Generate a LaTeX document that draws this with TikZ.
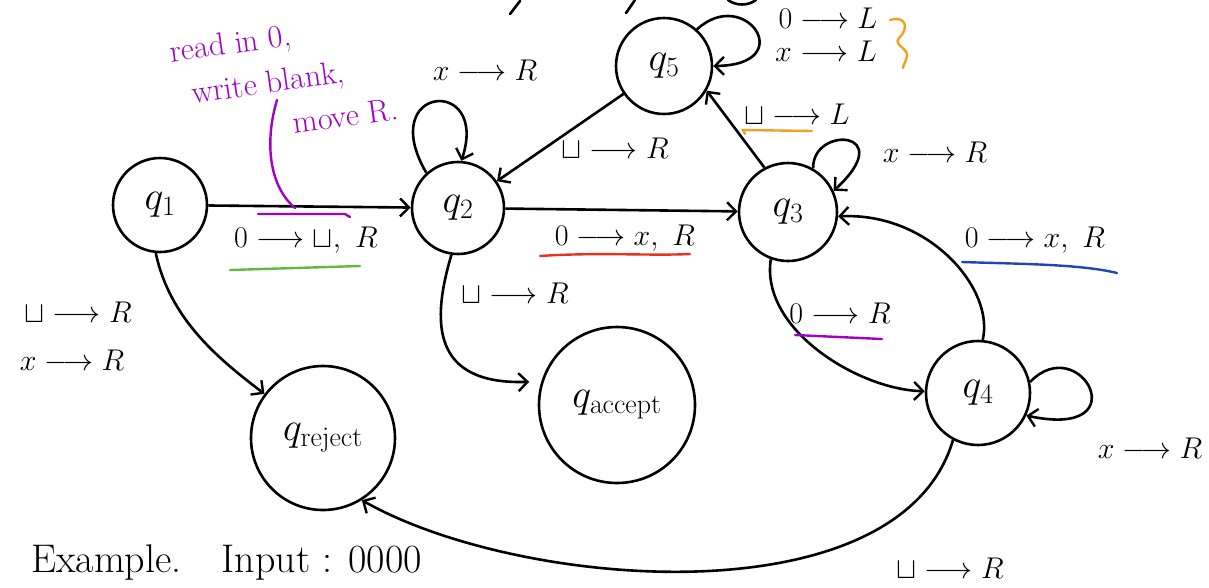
\RequirePackage{fix-cm}
\documentclass[tikz,border=0pt]{standalone}
\usetikzlibrary{arrows.meta}
\definecolor{annpurple}{RGB}{160,0,200}
\definecolor{anngreen}{RGB}{100,185,60}
\definecolor{annred}{RGB}{230,50,35}
\definecolor{annorange}{RGB}{242,160,30}
\definecolor{annblue}{RGB}{30,70,180}
\tikzset{
  state/.style={draw, circle, line width=2.6pt, inner sep=0pt, font=\fontsize{40}{46}\selectfont},
  bigstate/.style={state, font=\fontsize{40}{46}\selectfont},
  edge/.style={line width=2.6pt, -{Straight Barb[length=9pt,width=18pt,line width=2.4pt]}},
  lbl/.style={font=\fontsize{30}{36}\selectfont, inner sep=1pt},
  ann/.style={font=\fontsize{32}{44}\selectfont, text=annpurple, inner sep=0pt},
  uline/.style={line width=2.4pt, line cap=round},
  stroke/.style={line width=2.6pt, line cap=round},
}
\begin{document}
\begin{tikzpicture}[x=1pt,y=-1pt]
\useasboundingbox (0,0) rectangle (1209,587);
% states
\node[state, minimum size=94pt]  (q1) at (160,205) {$q_1$};
\node[state, minimum size=92pt]  (q2) at (458,208) {$q_2$};
\node[state, minimum size=98pt]  (q3) at (788,212) {$q_3$};
\node[state, minimum size=96pt]  (q5) at (664,66)  {$q_5$};
\node[state, minimum size=104pt] (q4) at (978,393) {$q_4$};
\node[bigstate, minimum size=156pt] (qa) at (617,405) {$q_{\mathrm{accept}}$};
\node[bigstate, minimum size=144pt] (qr) at (323,438) {$q_{\mathrm{reject}}$};

% cut-off strokes at the top edge
\draw[stroke] (510,14) -- (520,1);
\draw[stroke] (626,13) -- (635,0);
\draw[stroke] (728,0) .. controls (736,6) and (748,6) .. (756,0);

% edges
\draw[edge] (q1) -- (q2);
\draw[edge] (q2) -- (q3);
\draw[edge] (q5) -- (q2);
\draw[edge] (q3.118) -- (q5.-30);
\draw[edge] (q2.262) .. controls (432,320) and (430,385) .. ([xshift=-12pt]qa.163);
\draw[edge] (q1.265) .. controls (170,320) and (220,360) .. (qr.143);
\draw[edge] (q3.250) .. controls (760,330) and (860,390) .. (q4.178);
\draw[edge] (q4.85) .. controls (995,290) and (930,212) .. (q3.-5);
\draw[edge] (q4.-118) .. controls (900,620) and (520,590) .. (qr.-58);
% self loops
\draw[edge] (q2.132) .. controls (375,85) and (490,75) .. (q2.86);
\draw[edge] (q5.48) .. controls (745,-15) and (800,65) .. (q5.0);
\draw[edge] (q3.60) .. controls (812,125) and (900,130) .. (q3.25);
\draw[edge] (q4.12) .. controls (1080,330) and (1140,440) .. (q4.-25);

% labels
\node[lbl] (l12)  at (306,240) {$0\longrightarrow\sqcup,\ R$};
\node[lbl] (l23)  at (625,238) {$0\longrightarrow x,\ R$};
\node[lbl] (l2a)  at (515,293) {$\sqcup\longrightarrow R$};
\node[lbl] (l22)  at (485,70)  {$x\longrightarrow R$};
\node[lbl] (l52)  at (615,148) {$\sqcup\longrightarrow R$};
\node[lbl] (l35)  at (797,114) {$\sqcup\longrightarrow L$};
\node[lbl] (l55a) at (828,18)  {$0\longrightarrow L$};
\node[lbl] (l55b) at (826,51)  {$x\longrightarrow L$};
\node[lbl] (l33)  at (935,152) {$x\longrightarrow R$};
\node[lbl] (l34)  at (840,313) {$0\longrightarrow R$};
\node[lbl] (l43)  at (1035,240) {$0\longrightarrow x,\ R$};
\node[lbl] (l44)  at (1150,448) {$x\longrightarrow R$};
\node[lbl] (l1ra) at (78,312)  {$\sqcup\longrightarrow R$};
\node[lbl] (l1rb) at (72,360)  {$x\longrightarrow R$};
\node[lbl] (l4r)  at (950,568) {$\sqcup\longrightarrow R$};
\node[lbl, anchor=west, font=\fontsize{40}{46}\selectfont] (ex) at (30,563) {Example.\quad Input : 0000};

% annotation (one text block)
\node[ann, rotate=8, align=left] (annot) at (284,80)
  {read in 0,\\\hspace*{16pt}write blank,\\\hspace*{112pt}move R.};
\draw[uline, annpurple] (277,100) .. controls (265,140) and (268,185) .. (295,208);
\draw[uline, annpurple] (258,214) -- (345,214) -- (350,217);

% coloured underlines
\draw[uline, anngreen] (230,270) -- (360,266);
\draw[uline, annred] (540,256) .. controls (600,252) and (650,256) .. (690,254);
\draw[uline, annorange] (745,134) -- (743,130) -- (812,131);
\draw[uline, annpurple] (795,335) -- (882,339);
\draw[uline, annblue] (962,262) .. controls (1020,264) and (1080,264) .. (1117,273);
\draw[uline, annorange] (890,20) .. controls (908,15) and (908,30) .. (899,38)
      .. controls (893,45) and (908,48) .. (907,56) .. controls (906,62) and (903,65) .. (903,68);
\end{tikzpicture}
\end{document}
